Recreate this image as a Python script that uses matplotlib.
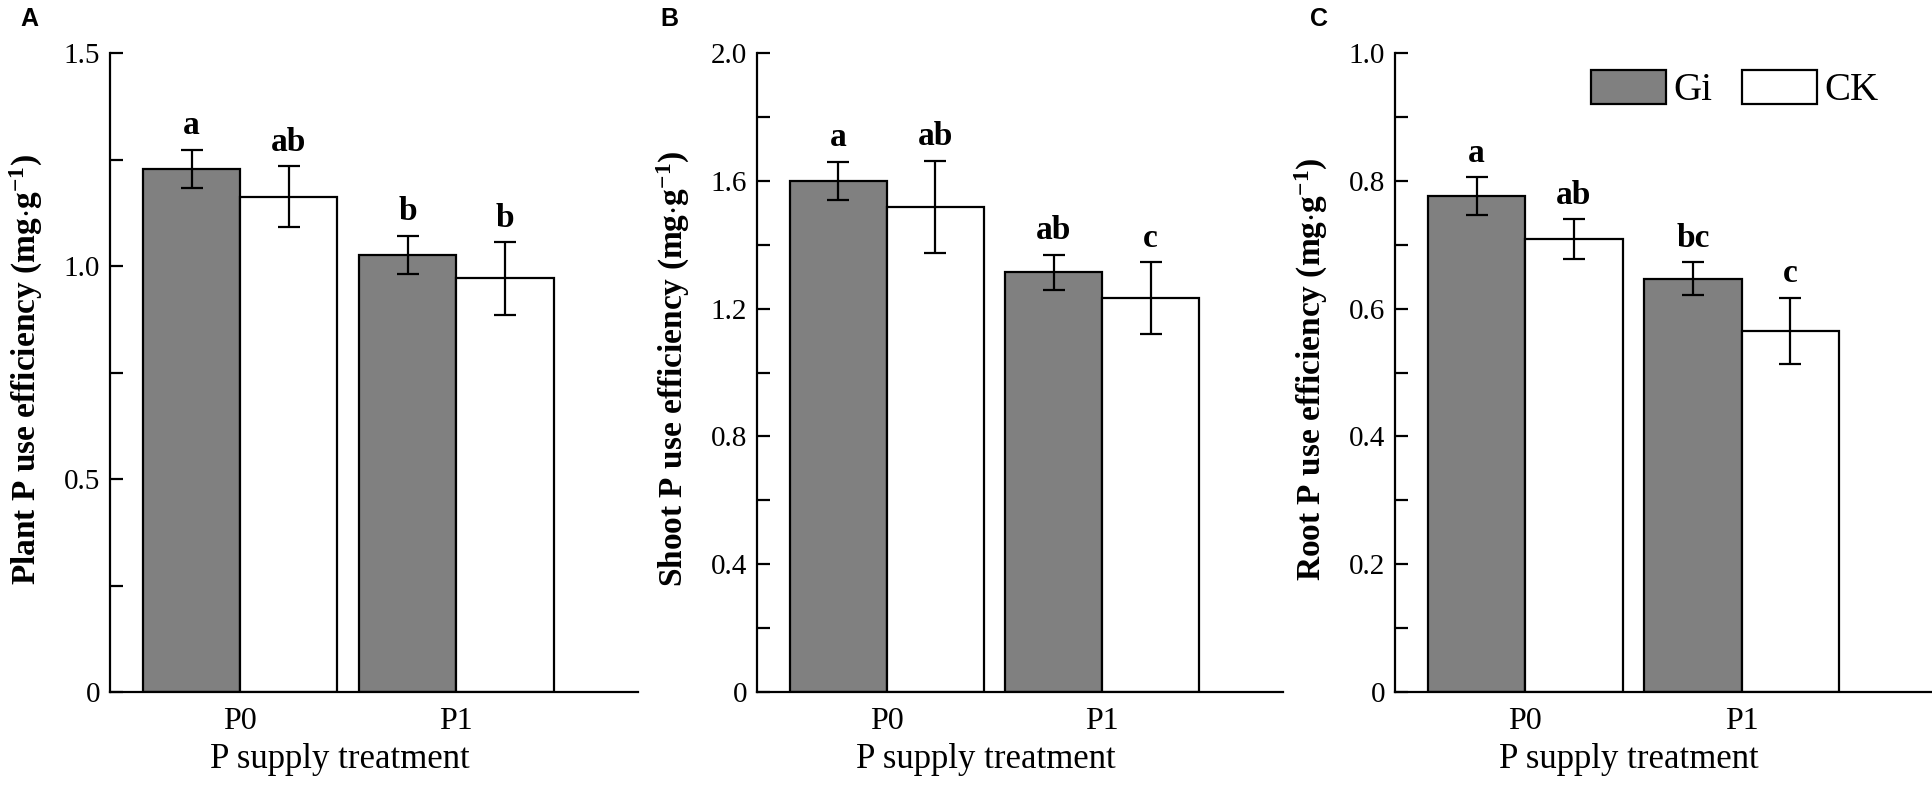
import matplotlib
matplotlib.use("Agg")
import matplotlib.pyplot as plt
import numpy as np
from matplotlib.patches import Patch

# ---- data ----
groups = ["P0", "P1"]
series = ["Gi", "CK"]

plant_gi = [1.228, 1.026]
plant_gi_err = [0.045, 0.045]
plant_ck = [1.163, 0.971]
plant_ck_err = [0.072, 0.085]
plant_gi_lbl = ["a", "b"]
plant_ck_lbl = ["ab", "b"]

shoot_gi = [1.600, 1.314]
shoot_gi_err = [0.060, 0.055]
shoot_ck = [1.518, 1.233]
shoot_ck_err = [0.145, 0.112]
shoot_gi_lbl = ["a", "ab"]
shoot_ck_lbl = ["ab", "c"]

root_gi = [0.776, 0.647]
root_gi_err = [0.030, 0.026]
root_ck = [0.709, 0.565]
root_ck_err = [0.031, 0.052]
root_gi_lbl = ["a", "bc"]
root_ck_lbl = ["ab", "c"]

ylabels = ["Plant P use efficiency (mg$\\cdot$g$^{-1}$)",
           "Shoot P use efficiency (mg$\\cdot$g$^{-1}$)",
           "Root P use efficiency (mg$\\cdot$g$^{-1}$)"]
xlabel = "P supply treatment"
panel_letters = ["A", "B", "C"]

yticks_major = [[0, 0.5, 1.0, 1.5], [0, 0.4, 0.8, 1.2, 1.6, 2.0], [0, 0.2, 0.4, 0.6, 0.8, 1.0]]
ytick_labels = [["0", "0.5", "1.0", "1.5"], ["0", "0.4", "0.8", "1.2", "1.6", "2.0"],
                ["0", "0.2", "0.4", "0.6", "0.8", "1.0"]]
yminor_step = [0.25, 0.2, 0.1]
ylims = [1.5, 2.0, 1.0]

# ---- style ----
plt.rcParams['font.family'] = ['Liberation Serif', 'DejaVu Serif']
plt.rcParams['mathtext.fontset'] = 'custom'
plt.rcParams['mathtext.rm'] = 'Liberation Serif:bold'
plt.rcParams['mathtext.it'] = 'Liberation Serif:bold'
plt.rcParams['mathtext.bf'] = 'Liberation Serif:bold'

W, H = 1933, 792
fig = plt.figure(figsize=(W / 100, H / 100), dpi=100)

gray = "#808080"
bw = 0.45
lw = 1.6

panels = [
    (plant_gi, plant_gi_err, plant_ck, plant_ck_err, plant_gi_lbl, plant_ck_lbl),
    (shoot_gi, shoot_gi_err, shoot_ck, shoot_ck_err, shoot_gi_lbl, shoot_ck_lbl),
    (root_gi, root_gi_err, root_ck, root_ck_err, root_gi_lbl, root_ck_lbl),
]
ax_left_px = [110, 757, 1395]
ax_width_px = [528, 526, 537]
xlim_right = [1.84, 1.84, 1.88]
ax_top_px, ax_bot_px = 53, 692
panel_letter_x = [20, 660, 1310]
ax_h_px = ax_bot_px - ax_top_px

x = np.arange(len(groups))
for i, (gi, gie, ck, cke, gl, cl) in enumerate(panels):
    ax = fig.add_axes([ax_left_px[i] / W, (H - ax_bot_px) / H,
                       ax_width_px[i] / W, ax_h_px / H])
    ax.bar(x - bw / 2, gi, bw, color=gray, edgecolor="black", linewidth=lw,
           yerr=gie, error_kw=dict(ecolor="black", elinewidth=1.6, capsize=8, capthick=1.6),
           label=series[0], zorder=2)
    ax.bar(x + bw / 2, ck, bw, color="white", edgecolor="black", linewidth=lw,
           yerr=cke, error_kw=dict(ecolor="black", elinewidth=1.6, capsize=8, capthick=1.6),
           label=series[1], zorder=2)
    for j in range(len(groups)):
        ax.annotate(gl[j], (x[j] - bw / 2, gi[j] + gie[j]), xytext=(0, 6),
                    textcoords="offset points", ha="center", va="bottom",
                    fontsize=24, fontweight="bold")
        ax.annotate(cl[j], (x[j] + bw / 2, ck[j] + cke[j]), xytext=(0, 6),
                    textcoords="offset points", ha="center", va="bottom",
                    fontsize=24, fontweight="bold")
    ax.set_xlim(-0.602, xlim_right[i])
    ax.set_ylim(0, ylims[i])
    ax.set_yticks(yticks_major[i])
    ax.set_yticklabels(ytick_labels[i])
    ax.set_yticks(np.arange(0, ylims[i] + 1e-9, yminor_step[i]), minor=True)
    ax.set_xticks(x)
    ax.set_xticklabels(groups)
    ax.tick_params(axis="y", which="both", direction="in", length=9.5, width=1.6,
                   labelsize=21, pad=7)
    ax.tick_params(axis="x", length=0, labelsize=23, pad=11)
    for s in ["top", "right"]:
        ax.spines[s].set_visible(False)
    for s in ["left", "bottom"]:
        ax.spines[s].set_linewidth(1.6)
    ax.set_xlabel(xlabel, fontsize=25)
    ax.xaxis.label.set_va("center")
    ax.xaxis.set_label_coords(0.435, -68 / ax_h_px)
    ax.set_ylabel(ylabels[i], fontsize=24, fontweight="bold")
    ax.yaxis.label.set_va("center")
    ax.yaxis.set_label_coords(-84 / ax_width_px[i], 0.505)
    fig.text(panel_letter_x[i] / W, 1 - 7 / H, panel_letters[i], family="Liberation Sans",
             fontsize=18, fontweight="bold", ha="left", va="top")
    if i == 2:
        handles = [Patch(facecolor=gray, edgecolor="black", linewidth=lw),
                   Patch(facecolor="white", edgecolor="black", linewidth=lw)]
        ax.legend(handles, series, ncol=2, frameon=False, fontsize=28,
                  loc="upper left", bbox_to_anchor=(0.365, 0.973),
                  handlelength=1.93, handleheight=0.95, handletextpad=0.2,
                  columnspacing=0.75, borderpad=0, borderaxespad=0)

fig.savefig("out.png", dpi=100)
